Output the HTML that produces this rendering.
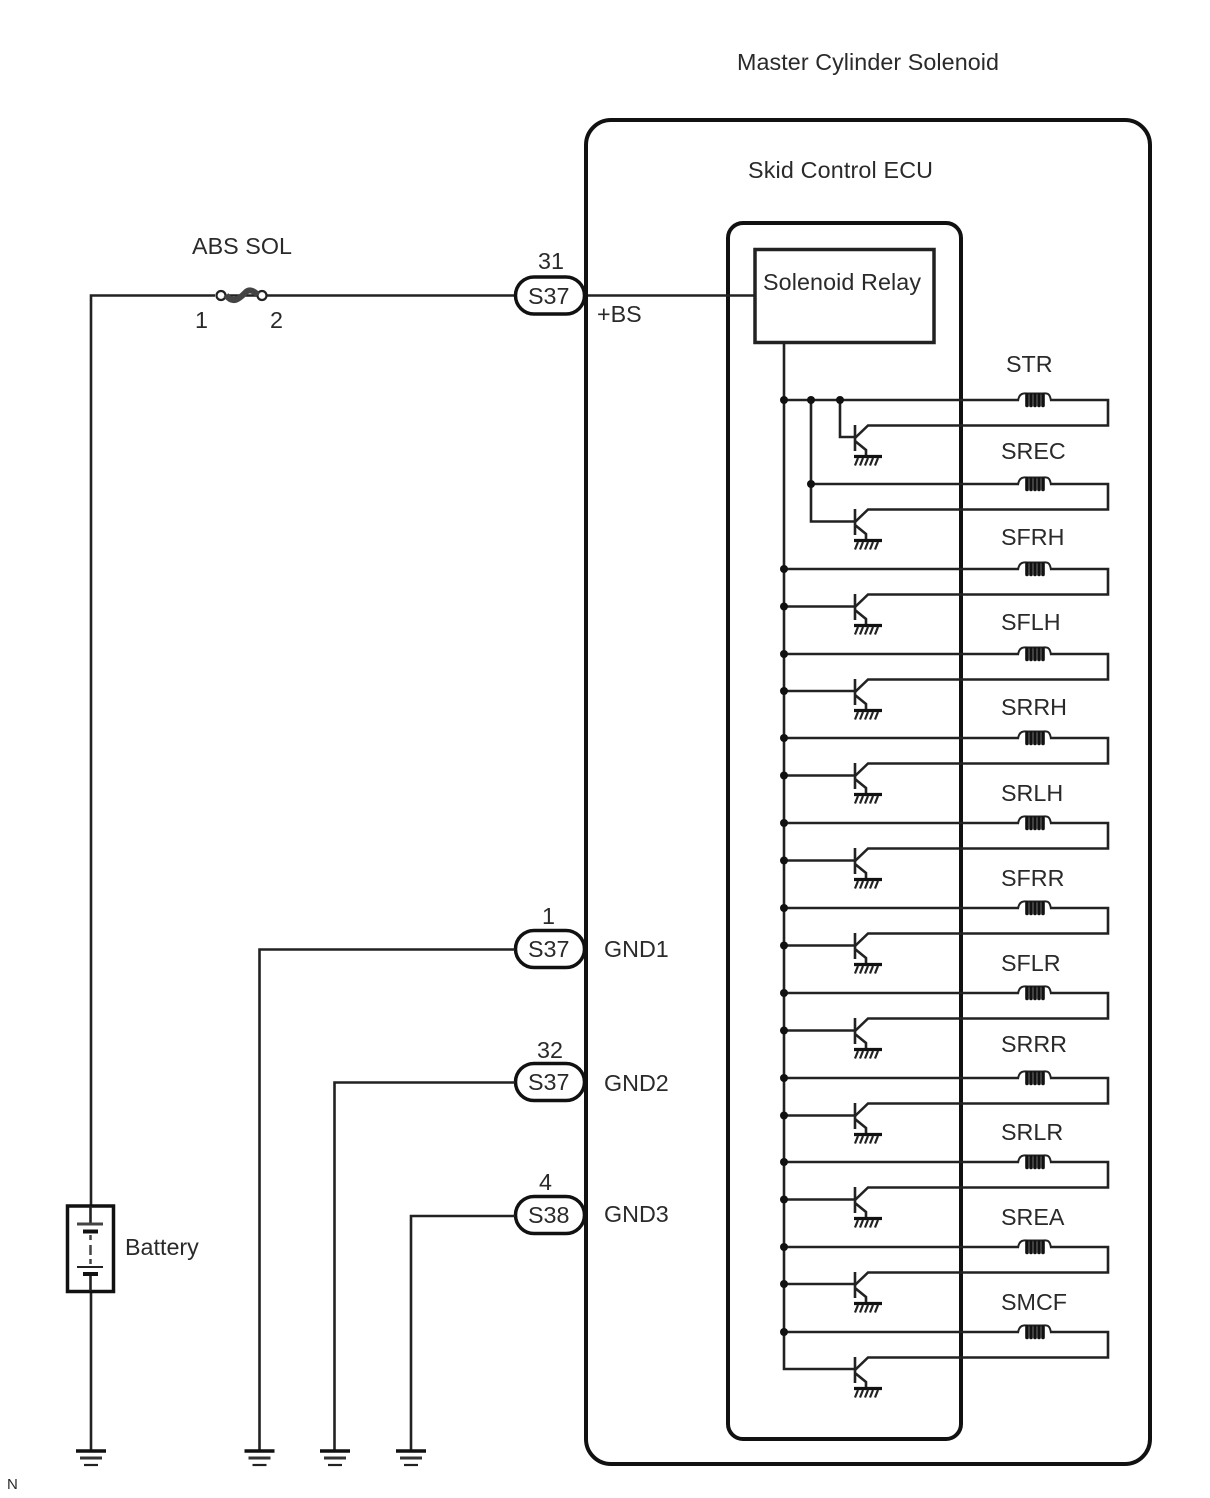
<!DOCTYPE html>
<html><head><meta charset="utf-8">
<style>
html,body{margin:0;padding:0;background:#fff;width:1210px;height:1498px;overflow:hidden}
svg{display:block;filter:blur(.35px)}
text{font-family:"Liberation Sans",Arial,sans-serif;font-size:23.300px;fill:#2a2a2a}
.w{stroke:#222;stroke-width:2.600;fill:none}
.b{stroke:#111;stroke-width:4;fill:none}
</style></head><body>
<svg width="1210" height="1498" viewBox="0 0 1210 1498" xmlns="http://www.w3.org/2000/svg">
<defs>
<g id="row">
<path class="w" d="M811 0H1019M1050 0H1108V25.500H868L855 38"/>
<path d="M1018 1C1019 -7 1024 -7 1027 -6.500H1043C1047 -7 1050 -7 1051 1" stroke="#222" stroke-width="2" fill="none"/>
<path d="M1027 -5V5.500M1031 -5V5.500M1035 -5V5.500M1039 -5V5.500M1043 -5V5.500" stroke="#111" stroke-width="3.600" fill="none" stroke-linecap="round"/>
</g>
<g id="tr">
<path class="w" d="M855 25V51M855 41L866 50V55"/>
<path d="M854 56.500H882" stroke="#111" stroke-width="3.200"/>
<path d="M858 58L855 65.500M863 58L860 65.500M868 58L865 65.500M873 58L870 65.500M878 58L875 65.500" stroke="#222" stroke-width="2.200"/>
</g>
<g id="gnd">
<path d="M0 0H30" stroke="#111" stroke-width="3.500"/>
<path d="M4 7H26" stroke="#333" stroke-width="3"/>
<path d="M8 14H22" stroke="#222" stroke-width="2.200"/>
</g>
</defs>

<!-- Enclosures -->
<rect class="b" x="586" y="120" width="564" height="1344" rx="25"/>
<rect class="b" x="728" y="223" width="233" height="1216" rx="15"/>
<rect x="755" y="249.500" width="179" height="93" stroke="#222" stroke-width="3.500" fill="#fff"/>

<!-- Top wiring -->
<path class="w" d="M515 295.500H229M215 295.500H91V1451"/>
<path class="w" d="M584 295.500H755"/>
<circle cx="221" cy="295.500" r="4.500" fill="#fff" stroke="#222" stroke-width="2.200"/>
<circle cx="262" cy="295.500" r="4.500" fill="#fff" stroke="#222" stroke-width="2.200"/>
<path d="M226 295C233 305 240 298 245 293C249 288 254 291 258 295" stroke="#444" stroke-width="6" fill="none"/>

<!-- Connectors -->
<g fill="#fff" stroke="#111" stroke-width="3.500">
<rect x="515.500" y="277" width="69" height="37" rx="18.500"/>
<rect x="515.500" y="930.500" width="69" height="37" rx="18.500"/>
<rect x="515.500" y="1063.500" width="69" height="37" rx="18.500"/>
<rect x="515.500" y="1196.500" width="69" height="37" rx="18.500"/>
</g>
<path class="b" d="M586 150V1434"/>

<!-- Ground wires -->
<path class="w" d="M515 949.500H259.500V1451"/>
<path class="w" d="M515 1082.500H334.500V1451"/>
<path class="w" d="M515 1216H411V1451"/>
<use href="#gnd" x="76" y="1451"/>
<use href="#gnd" x="244.500" y="1451"/>
<use href="#gnd" x="320" y="1451"/>
<use href="#gnd" x="396" y="1451"/>

<!-- Battery -->
<rect x="67.500" y="1206" width="46" height="85.500" fill="#fff" stroke="#111" stroke-width="3.500"/>
<path class="w" d="M90.500 1206V1224M90.500 1274V1291"/>
<path d="M77 1224H103" stroke="#444" stroke-width="3"/>
<path d="M83 1231.500H98" stroke="#111" stroke-width="4"/>
<path d="M77 1267H103" stroke="#222" stroke-width="2"/>
<path d="M83 1274H98" stroke="#111" stroke-width="4"/>
<path d="M90.500 1235V1240M90.500 1245V1255M90.500 1259V1264" stroke="#444" stroke-width="2.500"/>

<!-- Bus -->
<path class="w" d="M784 343V1369H855"/>
<path class="w" d="M811 400V521.500H855M840 400V437H855"/>
<path class="w" d="M784 400H811M784 569H811M784 654H811M784 738H811M784 823H811M784 908H811M784 993H811M784 1078H811M784 1162H811M784 1247H811M784 1332H811"/>

<!-- Rows -->
<use href="#row" y="400"/>
<use href="#row" y="484"/>
<use href="#row" y="569"/>
<use href="#row" y="654"/>
<use href="#row" y="738"/>
<use href="#row" y="823"/>
<use href="#row" y="908"/>
<use href="#row" y="993"/>
<use href="#row" y="1078"/>
<use href="#row" y="1162"/>
<use href="#row" y="1247"/>
<use href="#row" y="1332"/>

<use href="#tr" y="400"/>
<use href="#tr" y="484"/>
<use href="#tr" y="569"/>
<use href="#tr" y="654"/>
<use href="#tr" y="738"/>
<use href="#tr" y="823"/>
<use href="#tr" y="908"/>
<use href="#tr" y="993"/>
<use href="#tr" y="1078"/>
<use href="#tr" y="1162"/>
<use href="#tr" y="1247"/>
<use href="#tr" y="1332"/>

<path class="w" d="M784 606.500H855M784 691H855M784 775.500H855M784 860.500H855M784 945.500H855M784 1030.500H855M784 1115.500H855M784 1199.500H855M784 1284H855"/>

<g fill="#111">
<circle cx="784" cy="400" r="4"/><circle cx="811" cy="400" r="4"/><circle cx="840" cy="400" r="4"/>
<circle cx="811" cy="484" r="4"/>
<circle cx="784" cy="569" r="4"/><circle cx="784" cy="606.500" r="4"/>
<circle cx="784" cy="654" r="4"/><circle cx="784" cy="691" r="4"/>
<circle cx="784" cy="738" r="4"/><circle cx="784" cy="775.500" r="4"/>
<circle cx="784" cy="823" r="4"/><circle cx="784" cy="860.500" r="4"/>
<circle cx="784" cy="908" r="4"/><circle cx="784" cy="945.500" r="4"/>
<circle cx="784" cy="993" r="4"/><circle cx="784" cy="1030.500" r="4"/>
<circle cx="784" cy="1078" r="4"/><circle cx="784" cy="1115.500" r="4"/>
<circle cx="784" cy="1162" r="4"/><circle cx="784" cy="1199.500" r="4"/>
<circle cx="784" cy="1247" r="4"/><circle cx="784" cy="1284" r="4"/>
<circle cx="784" cy="1332" r="4"/>
</g>

<!-- Labels -->
<text x="737" y="70" textLength="262">Master Cylinder Solenoid</text>
<text x="748" y="178" textLength="185">Skid Control ECU</text>
<text x="192" y="254" textLength="100">ABS SOL</text>
<text x="763" y="290" textLength="158">Solenoid Relay</text>
<text x="538" y="269">31</text>
<text x="528" y="304">S37</text>
<text x="195" y="328">1</text>
<text x="270" y="328">2</text>
<text x="597" y="322">+BS</text>
<text x="125" y="1255">Battery</text>
<text x="542" y="924">1</text>
<text x="528" y="957">S37</text>
<text x="604" y="957">GND1</text>
<text x="537" y="1058">32</text>
<text x="528" y="1090">S37</text>
<text x="604" y="1091">GND2</text>
<text x="539" y="1190">4</text>
<text x="528" y="1223">S38</text>
<text x="604" y="1222">GND3</text>
<text x="1006" y="372">STR</text>
<text x="1001" y="459">SREC</text>
<text x="1001" y="545">SFRH</text>
<text x="1001" y="630">SFLH</text>
<text x="1001" y="715">SRRH</text>
<text x="1001" y="801">SRLH</text>
<text x="1001" y="886">SFRR</text>
<text x="1001" y="971">SFLR</text>
<text x="1001" y="1052">SRRR</text>
<text x="1001" y="1140">SRLR</text>
<text x="1001" y="1225">SREA</text>
<text x="1001" y="1310">SMCF</text>
<text x="7" y="1489" style="font-size:15px">N</text>
</svg>
</body></html>
